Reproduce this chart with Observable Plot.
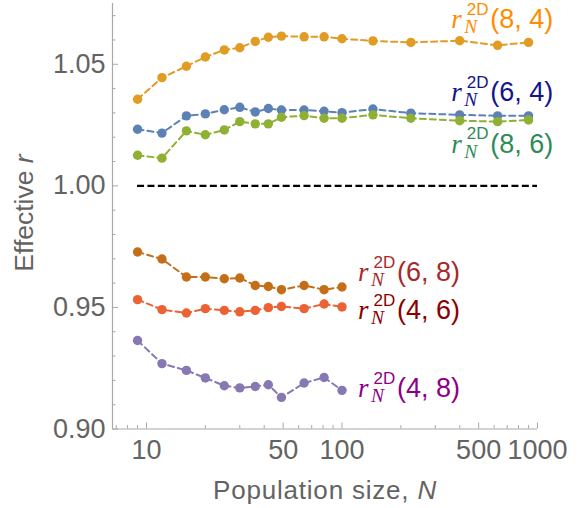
<!DOCTYPE html>
<html><head><meta charset="utf-8">
<script src="https://cdn.jsdelivr.net/npm/d3@7"></script>
<script src="https://cdn.jsdelivr.net/npm/@observablehq/plot@0.6"></script>
<style>
body{margin:0;background:#fff}
svg{font-family:"Liberation Sans",Arial,Helvetica,sans-serif}
</style>
</head><body><div id="chart"></div>
<script>
// Population sizes
const N_long = [9,12,16,20,25,30,36,42,49,64,81,100,144,225,400,625,900];
const N_short = [9,12,16,20,25,30,36,42,49,64,81,100];

// Effective r values
const r_84 = [1.0356,1.0445,1.0492,1.0530,1.0559,1.0568,1.0594,1.0611,1.0616,1.0613,1.0613,1.0605,1.0596,1.0590,1.0597,1.0578,1.0590];
const r_64 = [1.0233,1.0217,1.0288,1.0296,1.0313,1.0323,1.0304,1.0318,1.0312,1.0312,1.0307,1.0301,1.0316,1.0299,1.0292,1.0288,1.0288];
const r_86 = [1.0126,1.0114,1.0226,1.0210,1.0230,1.0264,1.0255,1.0255,1.0282,1.0289,1.0278,1.0278,1.0292,1.0278,1.0268,1.0264,1.0271];
const r_68 = [0.9728,0.9699,0.9625,0.9625,0.9618,0.9621,0.9590,0.9586,0.9573,0.9590,0.9573,0.9584];
const r_46 = [0.9532,0.9491,0.9477,0.9495,0.9488,0.9482,0.9488,0.9499,0.9504,0.9495,0.9514,0.9502];
const r_48 = [0.9364,0.9269,0.9241,0.9210,0.9178,0.9169,0.9175,0.9182,0.9130,0.9189,0.9212,0.9159];

const seriesKeys   = ["(8, 4)","(6, 4)","(8, 6)","(6, 8)","(4, 6)","(4, 8)"];
const seriesN      = [N_long, N_long, N_long, N_short, N_short, N_short];
const seriesR      = [r_84, r_64, r_86, r_68, r_46, r_48];
const pointColors  = ["#E19C24","#5E81B5","#8FB032","#C56E1A","#EB6235","#8778B3"];
const labelColors  = ["#FF8C00","#14148C","#2E8B57","#A52A2A","#8B0000","#8B008B"];
// label anchor (data coordinates)
const labelN = [360, 360, 360, 120, 120, 120];
const labelR = [1.0648, 1.03463, 1.01343, 0.96068, 0.94495, 0.91278];

// axis ticks
const xMajor = [10, 50, 100, 500, 1000];
const xMinor = [7,8,9,20,30,40,60,70,80,90,200,300,400,600,700,800,900];
const yMajor = [0.90, 0.95, 1.00, 1.05];
const yMinor = [0.91,0.92,0.93,0.94,0.96,0.97,0.98,0.99,1.01,1.02,1.03,1.04,1.06,1.07];
const xDomain = [6.7, 1000];
const yDomain = [0.9, 1.075];
const refLine = {r: 1, from: 9, to: 1000};

const data = seriesKeys.flatMap((k, i) => seriesN[i].map((n, j) => ({key: k, N: n, r: seriesR[i][j], color: pointColors[i]})));

const axisGray = "#a8a8a8";
const textGray = "#636363";

const chart = Plot.plot({
  width: 585, height: 508,
  marginLeft: 112, marginRight: 48, marginTop: 3, marginBottom: 79.5,
  x: {type: "log", domain: xDomain},
  y: {domain: yDomain},
  color: {type: "identity"},
  style: {background: "white", fontFamily: '"Liberation Sans",Arial,sans-serif'},
  marks: [
    Plot.ruleX([xDomain[0]], {stroke: axisGray, strokeWidth: 1.2}),
    Plot.ruleY([yDomain[0]], {stroke: axisGray, strokeWidth: 1.2}),
    Plot.axisY(yMajor, {tickSize: -6, tickFormat: () => "", stroke: axisGray, label: null}),
    Plot.axisY(yMinor, {tickSize: -3.5, tickFormat: () => "", stroke: axisGray, label: null}),
    Plot.axisY(yMajor, {tickSize: 0, tickPadding: 7, tickFormat: d3.format(".2f"), fill: textGray, fontSize: 27, label: null}),
    Plot.axisX(xMajor, {tickSize: -6, tickFormat: () => "", stroke: axisGray, label: null}),
    Plot.axisX(xMinor, {tickSize: -3.5, tickFormat: () => "", stroke: axisGray, label: null}),
    Plot.text(xMajor, {x: d => d, frameAnchor: "bottom", lineAnchor: "top", dy: 10.5, text: d => String(d), fill: textGray, fontSize: 27}),
    Plot.ruleY([refLine.r], {x1: refLine.from, x2: refLine.to, stroke: "black", strokeWidth: 2.3, strokeDasharray: "7,3.4"}),
    Plot.line(data, {x: "N", y: "r", z: "key", stroke: "color", strokeWidth: 2, strokeDasharray: "6,4"}),
    Plot.dot(data, {x: "N", y: "r", fill: "color", r: 4.7})
  ]
});
document.getElementById("chart").append(chart);

const sx = chart.scale("x"), sy = chart.scale("y");
const svg = d3.select(chart);
const serif = '"Liberation Serif","Times New Roman",serif';
seriesKeys.forEach((k, i) => {
  const px = sx.apply(labelN[i]), py = sy.apply(labelR[i]);
  const g = svg.append("g").attr("fill", labelColors[i]).attr("text-anchor", "start");
  g.append("text").attr("x", px + 1).attr("y", py).attr("font-family", serif).attr("font-style", "italic").attr("font-size", 27).text("r");
  g.append("text").attr("x", px + 16.5).attr("y", py - 13.3).attr("font-size", 17).text("2D");
  g.append("text").attr("x", px + 14).attr("y", py + 5).attr("font-family", serif).attr("font-style", "italic").attr("font-size", 19.5).text("N");
  g.append("text").attr("x", px + 40).attr("y", py).attr("font-size", 27).text(k);
});

// axis titles
const yt = svg.append("text").attr("transform", "translate(33,213) rotate(-90)").attr("text-anchor", "middle").attr("fill", textGray).attr("font-size", 26.5);
yt.append("tspan").text("Effective ");
yt.append("tspan").attr("font-style", "italic").text("r");
const xt = svg.append("text").attr("x", 325).attr("y", 499).attr("text-anchor", "middle").attr("fill", textGray).attr("font-size", 26).attr("letter-spacing", 0.8);
xt.append("tspan").text("Population size, ");
xt.append("tspan").attr("font-style", "italic").text("N");
</script>
</body></html>
